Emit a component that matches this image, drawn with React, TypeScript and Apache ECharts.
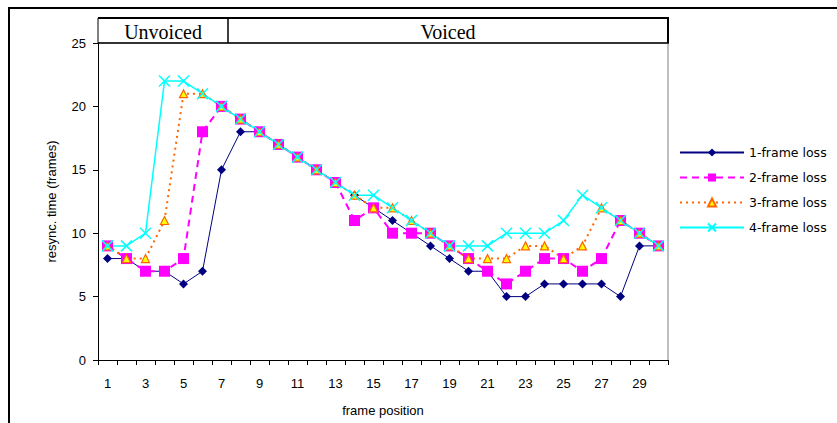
import React, { useEffect, useRef } from "react";
import * as echarts from "echarts";

const categories = Array.from({ length: 30 }, (_, i) => String(i + 1));
const loss1 = [8, 8, 7, 7, 6, 7, 15, 18, 18, 17, 16, 15, 14, 13, 12, 11, 10, 9, 8, 7, 7, 5, 5, 6, 6, 6, 6, 5, 9, 9];
const loss2 = [9, 8, 7, 7, 8, 18, 20, 19, 18, 17, 16, 15, 14, 11, 12, 10, 10, 10, 9, 8, 7, 6, 7, 8, 8, 7, 8, 11, 10, 9];
const loss3 = [9, 8, 8, 11, 21, 21, 20, 19, 18, 17, 16, 15, 14, 13, 12, 12, 11, 10, 9, 8, 8, 8, 9, 9, 8, 9, 12, 11, 10, 9];
const loss4 = [9, 9, 10, 22, 22, 21, 20, 19, 18, 17, 16, 15, 14, 13, 13, 12, 11, 10, 9, 9, 9, 10, 10, 10, 11, 13, 12, 11, 10, 9];
const seriesNames = ["1-frame loss", "2-frame loss", "3-frame loss", "4-frame loss"];
const regionLabels = ["Unvoiced", "Voiced"];
const unvoicedEnd = 7; // last unvoiced frame

const FONT = "'Liberation Sans', Arial, sans-serif";

export default function App() {
  const ref = useRef<HTMLDivElement>(null);
  useEffect(() => {
    const chart = echarts.init(ref.current!, null, { renderer: "svg" });
    const option: any = {
      animation: false,
      backgroundColor: "#ffffff",
      grid: { left: 98, right: 169, top: 43, bottom: 63, containLabel: false },
      legend: {
        orient: "vertical",
        left: 674,
        top: 141,
        itemWidth: 64,
        itemHeight: 10,
        itemGap: 12,
        textStyle: { fontFamily: "'DejaVu Sans', sans-serif", fontSize: 12.5, color: "#000" },
        data: seriesNames,
      },
      xAxis: {
        type: "category",
        data: categories,
        boundaryGap: true,
        name: "frame position",
        nameLocation: "middle",
        nameGap: 44,
        nameTextStyle: { fontFamily: FONT, fontSize: 13, color: "#000" },
        axisLine: { lineStyle: { color: "#000", width: 1 } },
        axisTick: { show: true, interval: 0, length: 5, lineStyle: { color: "#000" } },
        axisLabel: { interval: 1, margin: 17, fontFamily: FONT, fontSize: 13, color: "#000" },
        splitLine: { show: false },
      },
      yAxis: {
        type: "value",
        min: 0,
        max: 25,
        interval: 5,
        name: "resync. time (frames)",
        nameLocation: "middle",
        nameGap: 40,
        nameTextStyle: { fontFamily: FONT, fontSize: 13, color: "#000" },
        axisLine: { show: true, lineStyle: { color: "#000", width: 1 } },
        axisTick: { show: true, length: 5, lineStyle: { color: "#000" } },
        axisLabel: { margin: 12, fontFamily: FONT, fontSize: 13, color: "#000" },
        splitLine: { show: false },
      },
      series: [
        {
          name: seriesNames[0],
          type: "line",
          data: loss1,
          symbol: "diamond",
          symbolSize: 9,
          itemStyle: { color: "#000080" },
          lineStyle: { color: "#000080", width: 1 },
        },
        {
          name: seriesNames[1],
          type: "line",
          data: loss2,
          symbol: "rect",
          symbolSize: 11,
          itemStyle: { color: "#FF00FF" },
          lineStyle: { color: "#FF00FF", width: 2, type: [7, 5] },
        },
        {
          name: seriesNames[2],
          type: "line",
          data: loss3,
          symbol: "triangle",
          symbolSize: 8,
          itemStyle: { color: "#FFFF00", borderColor: "#FF6600", borderWidth: 1.2 },
          lineStyle: { color: "#FF6600", width: 2, type: [2, 4] },
        },
        {
          name: seriesNames[3],
          type: "line",
          data: loss4,
          symbol: "path://M0,0L10,10M10,0L0,10",
          symbolSize: 11,
          itemStyle: { color: "#00FFFF", borderColor: "#00FFFF", borderWidth: 1.5 },
          lineStyle: { color: "#00FFFF", width: 1.5 },
        },
      ],
    };
    chart.setOption(option);

    const x0 = chart.convertToPixel({ xAxisIndex: 0 }, 0) as number;
    const x1 = chart.convertToPixel({ xAxisIndex: 0 }, 1) as number;
    const step = x1 - x0;
    const left = x0 - step / 2;
    const right = left + step * categories.length;
    const divX = left + step * unvoicedEnd;
    const yTop = chart.convertToPixel({ yAxisIndex: 0 }, 25) as number;
    const yBottom = chart.convertToPixel({ yAxisIndex: 0 }, 0) as number;
    const hTop = yTop - 25;

    chart.setOption({
      graphic: [
        {
          type: "rect",
          shape: { x: 9, y: 8, width: 1000, height: 1000 },
          style: { fill: "none", stroke: "#000", lineWidth: 2 },
          silent: true,
        },
        {
          type: "line",
          shape: { x1: right, y1: yTop, x2: right, y2: yBottom },
          style: { stroke: "#808080", lineWidth: 1 },
        },
        {
          type: "line",
          shape: { x1: left, y1: hTop, x2: right + 1, y2: hTop },
          style: { stroke: "#000", lineWidth: 2 },
        },
        {
          type: "line",
          shape: { x1: left, y1: yTop, x2: right + 1, y2: yTop },
          style: { stroke: "#333", lineWidth: 2 },
        },
        {
          type: "line",
          shape: { x1: left, y1: hTop, x2: left, y2: yTop },
          style: { stroke: "#000", lineWidth: 1 },
        },
        {
          type: "line",
          shape: { x1: right, y1: hTop, x2: right, y2: yTop },
          style: { stroke: "#000", lineWidth: 2 },
        },
        {
          type: "line",
          shape: { x1: divX - 3, y1: hTop, x2: divX - 3, y2: yTop },
          style: { stroke: "#000", lineWidth: 1.5 },
        },
        {
          type: "text",
          x: (left + divX - 3) / 2,
          y: (hTop + yTop) / 2 + 1,
          style: {
            text: regionLabels[0],
            fill: "#000",
            font: "20px 'Liberation Serif', 'Times New Roman', serif",
            align: "center",
            verticalAlign: "middle",
          },
        },
        {
          type: "text",
          x: (divX - 3 + right) / 2,
          y: (hTop + yTop) / 2 + 1,
          style: {
            text: regionLabels[1],
            fill: "#000",
            font: "20px 'Liberation Serif', 'Times New Roman', serif",
            align: "center",
            verticalAlign: "middle",
          },
        },
      ],
    });

    return () => chart.dispose();
  }, []);
  return (
    <div
      ref={ref}
      style={{ position: "fixed", left: 0, top: 0, width: 837, height: 423, background: "#fff" }}
    />
  );
}
